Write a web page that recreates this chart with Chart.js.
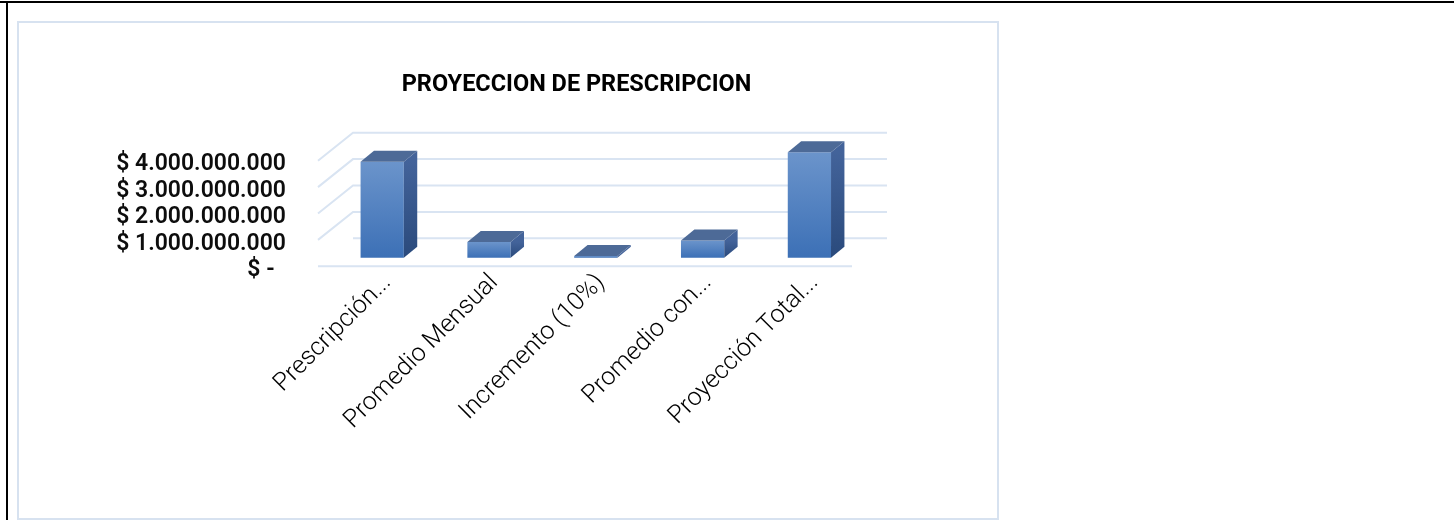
<!DOCTYPE html>
<html>
<head>
<meta charset="utf-8">
<title>Proyeccion de prescripcion</title>
<script src="https://cdn.jsdelivr.net/npm/chart.js@4.4.0/dist/chart.umd.min.js"></script>
<style>
  html, body { margin: 0; padding: 0; background: #fff; }
  body { width: 1454px; height: 520px; position: relative; overflow: hidden; }
  #topline { position: absolute; left: 0; top: 1px; width: 1454px; height: 2px; background: #000; }
  #leftline { position: absolute; left: 6px; top: 1px; width: 2px; height: 519px; background: #000; }
  #frame { position: absolute; left: 17px; top: 21px; width: 978px; height: 495px; border: 2px solid #d7e2f0; }
  #chart { position: absolute; left: 0; top: 0; }
</style>
</head>
<body>
<div id="topline"></div>
<div id="leftline"></div>
<div id="frame"></div>
<canvas id="chart" width="1454" height="520"></canvas>

<script>
// categories and values
let categories = ['Prescripción...', 'Promedio Mensual', 'Incremento (10%)', 'Promedio con...', 'Proyección Total...']
let values = [3630000000, 590000000, 60000000, 650000000, 3990000000]
let yMax = 4000000000
let yStep = 1000000000

// 3d look: wall depth, bar position inside the depth, bar depth
const WALL_DX = 35, WALL_DY = -28
const BAR_SHIFT_X = 10.8, BAR_SHIFT_Y = -8.6
const BAR_DX = 13.4, BAR_DY = -11

function money(v) {
    if (v === 0) return '$ -  '
    return '$ ' + String(v).replace(/\B(?=(\d{3})+(?!\d))/g, '.')
}

const wall3d = {
    id: 'wall3d',
    beforeDatasetsDraw(chart) {
        const ctx = chart.ctx
        const a = chart.chartArea
        const y = chart.scales.y
        ctx.save()
        ctx.strokeStyle = '#d9e4f2'
        ctx.lineWidth = 2
        ctx.beginPath()
        y.ticks.forEach(t => {
            const py = y.getPixelForValue(t.value)
            if (t.value > 0) {
                ctx.moveTo(a.left, py)
                ctx.lineTo(a.left + WALL_DX, py + WALL_DY)
            } else {
                ctx.moveTo(a.left + WALL_DX, py + WALL_DY)
            }
            ctx.lineTo(a.right + WALL_DX, py + WALL_DY)
        })
        // front edge of the floor
        ctx.moveTo(a.left, a.bottom)
        ctx.lineTo(a.right, a.bottom)
        ctx.stroke()
        ctx.restore()

        // bars sit in the middle of the depth
        ctx.save()
        ctx.translate(BAR_SHIFT_X, BAR_SHIFT_Y)
    },
    afterDatasetsDraw(chart) {
        const ctx = chart.ctx
        chart.getDatasetMeta(0).data.forEach(bar => {
            const p = bar.getProps(['x', 'y', 'base', 'width'], true)
            const l = p.x - p.width / 2, r = p.x + p.width / 2

            // side face
            const gs = ctx.createLinearGradient(0, p.y, 0, p.base)
            gs.addColorStop(0, '#43639a')
            gs.addColorStop(1, '#2a4a7c')
            ctx.fillStyle = gs
            ctx.beginPath()
            ctx.moveTo(r, p.y)
            ctx.lineTo(r + BAR_DX, p.y + BAR_DY)
            ctx.lineTo(r + BAR_DX, p.base + BAR_DY)
            ctx.lineTo(r, p.base)
            ctx.closePath()
            ctx.fill()

            // top face
            ctx.fillStyle = '#4d6a97'
            ctx.beginPath()
            ctx.moveTo(l, p.y)
            ctx.lineTo(r, p.y)
            ctx.lineTo(r + BAR_DX, p.y + BAR_DY)
            ctx.lineTo(l + BAR_DX, p.y + BAR_DY)
            ctx.closePath()
            ctx.fill()
        })
        ctx.restore()
    }
}

var ctx = document.getElementById('chart')

var chart = new Chart(ctx, {
    type: 'bar',
    data: {
        labels: categories,
        datasets: [{
            label: 'Proyeccion',
            data: values,
            clip: false,
            borderWidth: 0,
            categoryPercentage: 1,
            barPercentage: 0.405,
            backgroundColor: c => {
                const ch = c.chart
                if (!ch.chartArea) return '#4a7bbf'
                const y = ch.scales.y
                const g = ch.ctx.createLinearGradient(0, y.getPixelForValue(values[c.dataIndex]), 0, y.getPixelForValue(0))
                g.addColorStop(0, '#6b94cb')
                g.addColorStop(1, '#3c70b6')
                return g
            }
        }]
    },
    options: {
        responsive: false,
        animation: false,
        layout: {
            padding: { left: 110, right: 411, top: 0, bottom: 0 }
        },
        plugins: {
            legend: { display: false },
            tooltip: { enabled: false },
            title: {
                display: true,
                text: 'PROYECCION DE PRESCRIPCION',
                color: '#000',
                font: { family: 'Roboto', size: 23.5, weight: 'bold' },
                padding: { top: 71.4, bottom: 61.1 }
            }
        },
        scales: {
            x: {
                grid: { display: false, drawTicks: false },
                border: { display: false },
                ticks: {
                    autoSkip: false,
                    minRotation: 45,
                    maxRotation: 45,
                    padding: 2,
                    labelOffset: 16,
                    color: '#000',
                    font: { family: 'Roboto', size: 25, weight: '300' }
                },
                afterFit: s => { s.height = 520 - 266.3 }
            },
            y: {
                min: 0,
                max: yMax,
                grid: { display: false, drawTicks: false },
                border: { display: false },
                ticks: {
                    autoSkip: false,
                    stepSize: yStep,
                    padding: 32,
                    labelOffset: 4,
                    color: '#0d0d0d',
                    font: { family: 'Roboto', size: 23, weight: '600' },
                    callback: v => money(v)
                },
                afterFit: s => { s.width = 318 - 110 }
            },
            // empty space on the right so the title keeps its place
            yPad: {
                type: 'linear',
                position: 'right',
                grid: { display: false, drawTicks: false },
                border: { display: false },
                ticks: { display: false },
                afterFit: s => { s.width = 1043 - 852 }
            }
        }
    },
    plugins: [wall3d]
})
</script>
</body>
</html>
